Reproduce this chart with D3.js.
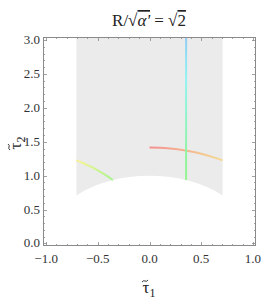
<!DOCTYPE html>
<html>
<head>
<meta charset="utf-8">
<title>Trajectory</title>
<script src="https://d3js.org/d3.v7.min.js"></script>
<style>
  body { margin: 0; background: #fff; }
  svg text { font-family: "Liberation Serif", "Times New Roman", "DejaVu Serif", serif; }
</style>
</head>
<body>
<script>
// tick values
const xTicks = [-1.0, -0.5, 0.0, 0.5, 1.0];
const yTicks = [0.0, 0.5, 1.0, 1.5, 2.0, 2.5, 3.0];

// shaded region: |tau1| <= halfWidth, above the unit circle
const regionHalfWidth = 0.707;
const regionRadius = 1;

// trajectory pieces (tau1, tau2, hue)
const arcRightX   = [0, 0.1, 0.2, 0.3, 0.4, 0.5, 0.6, 0.707];
const arcRightY   = [1.414, 1.411, 1.400, 1.382, 1.356, 1.323, 1.281, 1.225];
const arcRightHue = [0, 45];

const arcLeftX   = [-0.707, -0.65, -0.6, -0.55, -0.5, -0.45, -0.4, -0.354];
const arcLeftY   = [1.225, 1.190, 1.156, 1.120, 1.079, 1.035, 0.986, 0.935];
const arcLeftHue = [55, 105];

const lineX   = [0.354, 0.354];
const lineY   = [0.935, 3.05];
const lineHue = [115, 205];

const w = 266, h = 301;
const m = {left: 43, right: 256, top: 37, bottom: 246};

const x = d3.scaleLinear().domain([-1.03, 1.03]).range([m.left, m.right]);
const y = d3.scaleLinear().domain([-0.037, 3.044]).range([m.bottom, m.top]);

const svg = d3.select("body").append("svg")
  .attr("width", w).attr("height", h);

const defs = svg.append("defs");
defs.append("clipPath").attr("id", "clip")
  .append("rect")
  .attr("x", m.left).attr("y", m.top)
  .attr("width", m.right - m.left).attr("height", m.bottom - m.top);

const plot = svg.append("g").attr("clip-path", "url(#clip)");

// gray region
const rx = x(regionRadius) - x(0), ry = y(0) - y(regionRadius);
const yEdge = Math.sqrt(regionRadius * regionRadius - regionHalfWidth * regionHalfWidth);
const p = d3.path();
p.moveTo(x(-regionHalfWidth), y(3.2));
p.lineTo(x(-regionHalfWidth), y(yEdge));
plot.append("path")
  .attr("d", p.toString()
    + "A" + rx + "," + ry + " 0 0 1 " + x(regionHalfWidth) + "," + y(yEdge)
    + "L" + x(regionHalfWidth) + "," + y(3.2) + "Z")
  .attr("fill", "#ebebeb");

const hueColor = hh => d3.hsl(hh, 0.82, 0.76).formatHex();

function drawPiece(xs, ys, hues, id) {
  const pts = xs.map((v, i) => [v, ys[i]]);
  const horiz = Math.abs(x(xs[xs.length - 1]) - x(xs[0])) > Math.abs(y(ys[ys.length - 1]) - y(ys[0]));
  const g = defs.append("linearGradient").attr("id", id)
    .attr("gradientUnits", "userSpaceOnUse")
    .attr("x1", x(xs[0])).attr("y1", y(ys[0]))
    .attr("x2", horiz ? x(xs[xs.length - 1]) : x(xs[0]))
    .attr("y2", horiz ? y(ys[0]) : y(ys[ys.length - 1]));
  d3.range(0, 1.0001, 0.1).forEach(t => {
    g.append("stop").attr("offset", t)
      .attr("stop-color", hueColor(hues[0] + t * (hues[1] - hues[0])));
  });
  plot.append("path")
    .datum(pts)
    .attr("d", d3.line().x(d => x(d[0])).y(d => y(d[1])).curve(d3.curveCatmullRom))
    .attr("fill", "none")
    .attr("stroke", "url(#" + id + ")")
    .attr("stroke-width", 2);
}

drawPiece(arcRightX, arcRightY, arcRightHue, "gRight");
drawPiece(arcLeftX, arcLeftY, arcLeftHue, "gLeft");
drawPiece(lineX, lineY, lineHue, "gLine");

// frame
const frameColor = "#8a8a8a";
svg.append("rect")
  .attr("x", m.left + 0.5).attr("y", m.top + 0.5)
  .attr("width", m.right - m.left - 1).attr("height", m.bottom - m.top - 1)
  .attr("fill", "none").attr("stroke", frameColor);

// ticks on all four sides, inward
const ticks = svg.append("g").attr("stroke", frameColor).attr("stroke-width", 0.8);
const xMinor = d3.range(-10, 11).map(i => i / 10);
const yMinor = d3.range(0, 31).map(i => i / 10);
xMinor.forEach(v => {
  const major = Math.abs(v * 2 - Math.round(v * 2)) < 1e-6;
  const len = major ? 4 : 2;
  const px = Math.round(x(v)) + 0.5;
  ticks.append("line").attr("x1", px).attr("x2", px).attr("y1", m.bottom).attr("y2", m.bottom - len);
  ticks.append("line").attr("x1", px).attr("x2", px).attr("y1", m.top).attr("y2", m.top + len);
});
yMinor.forEach(v => {
  const major = Math.abs(v * 2 - Math.round(v * 2)) < 1e-6;
  const len = major ? 4 : 2;
  const py = Math.round(y(v)) + 0.5;
  ticks.append("line").attr("y1", py).attr("y2", py).attr("x1", m.left).attr("x2", m.left + len);
  ticks.append("line").attr("y1", py).attr("y2", py).attr("x1", m.right).attr("x2", m.right - len);
});

const fmt = v => (v < 0 ? "\u2212" : "") + Math.abs(v).toFixed(1);

svg.append("g").selectAll("text").data(xTicks).join("text")
  .attr("x", d => x(d)).attr("y", 263)
  .attr("text-anchor", "middle")
  .attr("font-size", 13)
  .attr("fill", "#333")
  .text(fmt);

svg.append("g").selectAll("text").data(yTicks).join("text")
  .attr("x", 40).attr("y", d => y(d) + 4)
  .attr("text-anchor", "end")
  .attr("font-size", 13)
  .attr("fill", "#333")
  .text(fmt);

// axis labels: tau with a tilde stroke drawn above it
function tauLabel(g, sub) {
  const t = g.append("text").attr("text-anchor", "middle").attr("font-size", 17).attr("fill", "#222");
  t.append("tspan").text("\u03C4");
  t.append("tspan").attr("font-size", 12).attr("dy", 4).text(sub);
  g.append("path")
    .attr("d", "M-7,-11 q1.5,-2 3,-1 t3,-1")
    .attr("fill", "none").attr("stroke", "#222").attr("stroke-width", 0.9);
}
tauLabel(svg.append("g").attr("transform", "translate(149,293)"), "1");
tauLabel(svg.append("g").attr("transform", "translate(21,143) rotate(-90)"), "2");

// title
const title = svg.append("text")
  .attr("x", 149).attr("y", 26)
  .attr("text-anchor", "middle")
  .attr("font-size", 17)
  .attr("fill", "#222");
title.append("tspan").text("R/\u221A");
title.append("tspan").attr("text-decoration", "overline").attr("font-style", "italic").text("\u03B1'");
title.append("tspan").text(" = \u221A");
title.append("tspan").attr("text-decoration", "overline").text("2");
</script>
</body>
</html>
